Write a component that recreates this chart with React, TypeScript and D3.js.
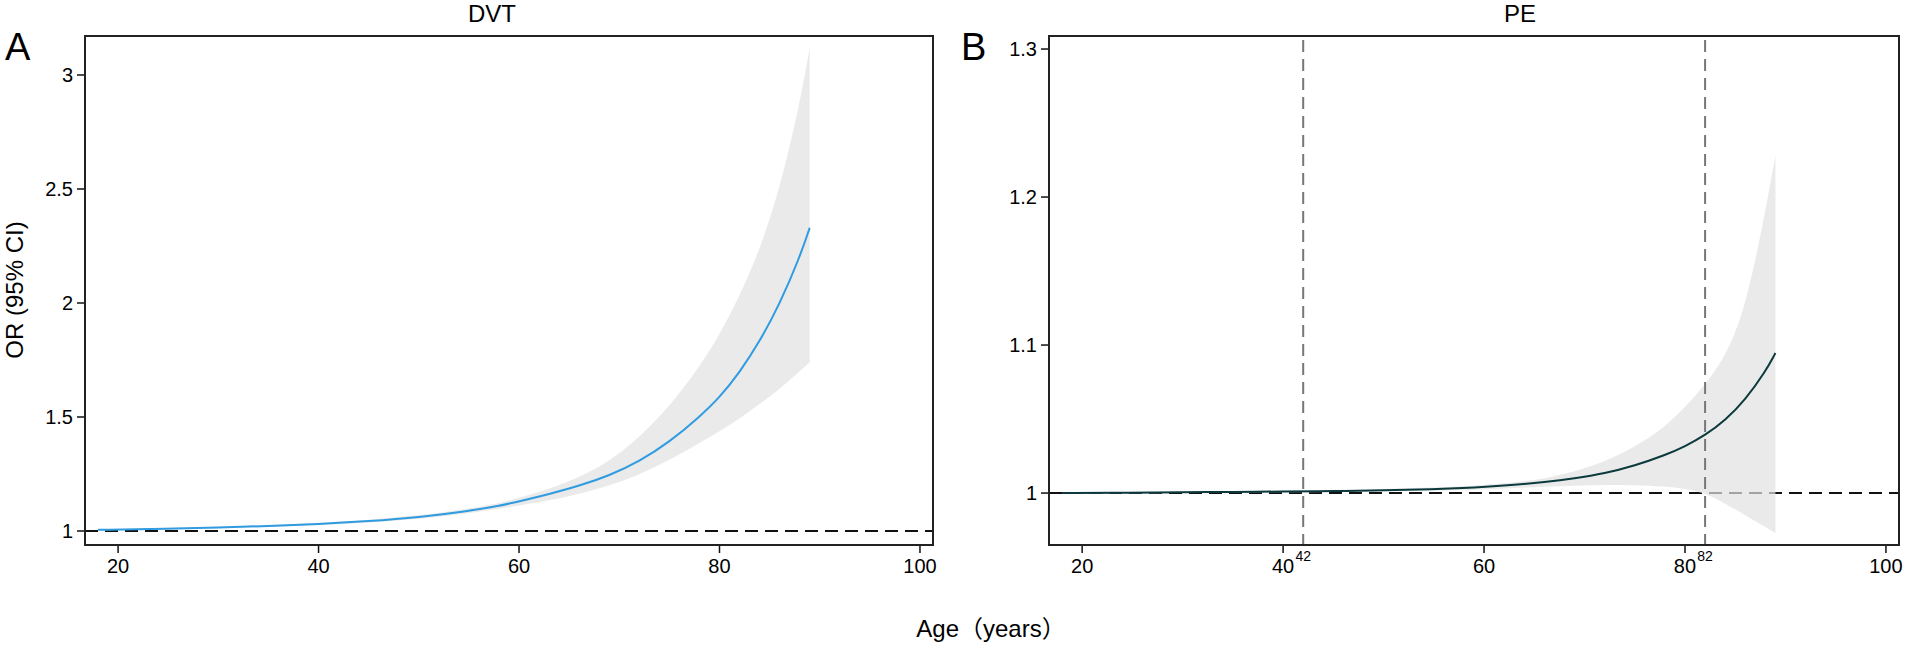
import React from 'react';
import * as d3 from 'd3';

// Age grid shared by both panels
const ages = [18, 25, 30, 35, 40, 45, 50, 55, 58, 60, 63, 66, 69, 72, 75, 78, 80, 82, 84, 86, 88, 89];

// DVT: OR and 95% CI
const dvtOR = [1.005, 1.01, 1.015, 1.022, 1.03, 1.043, 1.06, 1.088, 1.11, 1.13, 1.162, 1.198, 1.243, 1.305, 1.39, 1.5, 1.585, 1.695, 1.83, 1.995, 2.2, 2.33];
const dvtUpper = [1.007, 1.012, 1.018, 1.026, 1.035, 1.049, 1.068, 1.098, 1.122, 1.145, 1.185, 1.235, 1.305, 1.41, 1.545, 1.72, 1.86, 2.03, 2.23, 2.5, 2.87, 3.12];
const dvtLower = [1.003, 1.008, 1.012, 1.018, 1.025, 1.037, 1.052, 1.078, 1.098, 1.112, 1.134, 1.162, 1.198, 1.247, 1.31, 1.385, 1.437, 1.492, 1.557, 1.622, 1.7, 1.74];

// PE: OR and 95% CI
const peOR = [1.0, 1.0003, 1.0005, 1.0008, 1.001, 1.0013, 1.0018, 1.0026, 1.0034, 1.0041, 1.0055, 1.0074, 1.0099, 1.0132, 1.0185, 1.0255, 1.0315, 1.039, 1.049, 1.063, 1.082, 1.0946];
const peUpper = [1.0005, 1.0008, 1.001, 1.0013, 1.0016, 1.002, 1.0027, 1.0037, 1.0046, 1.0055, 1.0072, 1.0097, 1.0145, 1.021, 1.031, 1.0445, 1.058, 1.073, 1.092, 1.124, 1.19, 1.228];
const peLower = [0.9995, 0.9998, 1.0, 1.0003, 1.0005, 1.0008, 1.001, 1.0015, 1.002, 1.0025, 1.0034, 1.0043, 1.005, 1.0055, 1.0055, 1.0045, 1.003, 1.0, 0.993, 0.985, 0.977, 0.973];
const peCutoffs = [42, 82];

const xTicks = [20, 40, 60, 80, 100];
const dvtYTicks = [1, 1.5, 2, 2.5, 3];
const peYTicks = [1, 1.1, 1.2, 1.3];

const FONT = "'Liberation Sans', Arial, 'Noto Sans CJK SC', sans-serif";

interface PanelProps {
  left: number;
  right: number;
  top: number;
  bottom: number;
  yDomain: [number, number];
  yTicks: number[];
  or: number[];
  upper: number[];
  lower: number[];
  lineColor: string;
  cutoffs?: number[];
  title: string;
  titleX: number;
  letter: string;
  letterX: number;
}

const Panel: React.FC<PanelProps> = ({
  left, right, top, bottom, yDomain, yTicks, or, upper, lower,
  lineColor, cutoffs = [], title, titleX, letter, letterX,
}) => {
  const x = d3.scaleLinear().domain([16.7, 101.3]).range([left, right]);
  const y = d3.scaleLinear().domain(yDomain).range([bottom, top]);

  const rows = ages.map((a, i) => ({ age: a, or: or[i], lo: lower[i], hi: upper[i] }));

  const area = d3
    .area<typeof rows[0]>()
    .x((d) => x(d.age))
    .y0((d) => y(d.lo))
    .y1((d) => y(d.hi))
    .curve(d3.curveBasis);

  const line = d3
    .line<typeof rows[0]>()
    .x((d) => x(d.age))
    .y((d) => y(d.or))
    .curve(d3.curveBasis);

  return (
    <g fontFamily={FONT}>
      <text x={letterX} y={60} fontSize={38}>{letter}</text>
      <text x={titleX} y={22} fontSize={24} textAnchor="middle">{title}</text>

      {/* reference line at OR = 1 */}
      <line x1={left} x2={right} y1={y(1)} y2={y(1)} stroke="#111" strokeWidth={2} strokeDasharray="13,7" />

      <path d={area(rows) || ''} fill="#e1e1e1" fillOpacity={0.7} />

      {cutoffs.map((c) => (
        <g key={c}>
          <line x1={x(c)} x2={x(c)} y1={top + 4} y2={bottom} stroke="#777" strokeWidth={2} strokeDasharray="12,7" />
          <text x={x(c)} y={bottom + 16} fontSize={14} textAnchor="middle">{c}</text>
        </g>
      ))}

      <path d={line(rows) || ''} fill="none" stroke={lineColor} strokeWidth={2} />

      {/* y axis */}
      {yTicks.map((t) => (
        <g key={t}>
          <line x1={left - 8} x2={left} y1={y(t)} y2={y(t)} stroke="#111" strokeWidth={1.5} />
          <text x={left - 12} y={y(t)} dy="0.35em" fontSize={20} textAnchor="end">{String(t)}</text>
        </g>
      ))}

      {/* x axis */}
      {xTicks.map((t) => (
        <g key={t}>
          <line x1={x(t)} x2={x(t)} y1={bottom} y2={bottom + 8} stroke="#111" strokeWidth={1.5} />
          <text x={x(t)} y={bottom + 28} fontSize={20} textAnchor="middle">{t}</text>
        </g>
      ))}

      <rect x={left} y={top} width={right - left} height={bottom - top} fill="none" stroke="#222" strokeWidth={2} />
    </g>
  );
};

export default function App() {
  return (
    <div style={{ position: 'absolute', left: 0, top: 0 }}>
      <svg width={1907} height={646} style={{ display: 'block', background: '#fff' }}>
        <Panel
          left={85} right={933} top={36} bottom={545}
          yDomain={[0.9386, 3.171]} yTicks={dvtYTicks}
          or={dvtOR} upper={dvtUpper} lower={dvtLower}
          lineColor="#2f9be0" title="DVT" titleX={492} letter="A" letterX={5}
        />
        <Panel
          left={1049} right={1899} top={36} bottom={545}
          yDomain={[0.9649, 1.3088]} yTicks={peYTicks}
          or={peOR} upper={peUpper} lower={peLower}
          lineColor="#0c3a3c" cutoffs={peCutoffs}
          title="PE" titleX={1520} letter="B" letterX={961}
        />
        <text
          transform="translate(23,290) rotate(-90)"
          fontFamily={FONT} fontSize={24} textAnchor="middle"
        >
          OR (95% CI)
        </text>
        <text x={991} y={637} fontFamily={FONT} fontSize={24} textAnchor="middle">
          Age（years）
        </text>
      </svg>
    </div>
  );
}
